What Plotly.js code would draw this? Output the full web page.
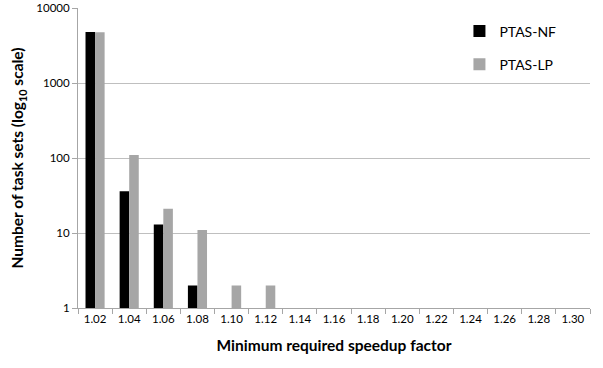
<!DOCTYPE html>
<html><head><meta charset="utf-8">
<script src="https://cdn.plot.ly/plotly-3.0.1.min.js"></script>
<style>html,body{margin:0;padding:0;background:#fff}</style>
</head><body><div id="chart" style="width:603px;height:368px"></div>
<script>
const categories = ["1.02","1.04","1.06","1.08","1.10","1.12","1.14","1.16","1.18","1.20","1.22","1.24","1.26","1.28","1.30"];
const ptasNF = [4800, 36, 13, 2, null, null, null, null, null, null, null, null, null, null, null];
const ptasLP = [4750, 110, 21, 11, 2, 2, null, null, null, null, null, null, null, null, null];
const yTickVals = [1, 10, 100, 1000, 10000];
const yTickText = ["1", "10", "100", "1000", "10000"];

const font = "Lato, 'Open Sans', sans-serif";
const traces = [
  {type:"bar", name:"PTAS-NF", x:categories, y:ptasNF, marker:{color:"#000000"}, legendgroup:"a"},
  {type:"bar", name:"PTAS-LP", x:categories, y:ptasLP, marker:{color:"#a6a6a6"}, legendgroup:"b"}
];
const layout = {
  width:603, height:368,
  margin:{l:78, r:13, t:8, b:60},
  paper_bgcolor:"#fff", plot_bgcolor:"#fff",
  font:{family:font, size:11.5, color:"#000"},
  barmode:"group", bargap:0.44, bargroupgap:0,
  showlegend:true,
  legend:{x:0.745, y:0.975, xanchor:"left", yanchor:"top", font:{size:14, family:font}, tracegroupgap:12, traceorder:"grouped", bgcolor:"rgba(0,0,0,0)"},
  xaxis:{type:"category", range:[-0.5,14.5], showline:true, linecolor:"#a6a6a6", linewidth:1,
    ticks:"outside", tickson:"boundaries", ticklen:5, tickcolor:"#a6a6a6", showgrid:false,
    tickfont:{size:11.5}, title:{text:"Minimum required speedup factor", font:{size:15.5, family:font, weight:"bold"}, standoff:16}},
  yaxis:{type:"log", range:[0,4], tickvals:yTickVals, ticktext:yTickText, showline:true, linecolor:"#a6a6a6",
    ticks:"outside", ticklen:5, tickcolor:"#a6a6a6", showgrid:true, gridcolor:"#bfbfbf", gridwidth:1,
    tickfont:{size:11.5}, zeroline:false,
    title:{text:"Number of task sets (log<sub>10</sub> scale)", font:{size:15.5, family:font, weight:"bold"}, standoff:8}}
};
Plotly.newPlot("chart", traces, layout, {displayModeBar:false, staticPlot:true});
</script></body></html>
